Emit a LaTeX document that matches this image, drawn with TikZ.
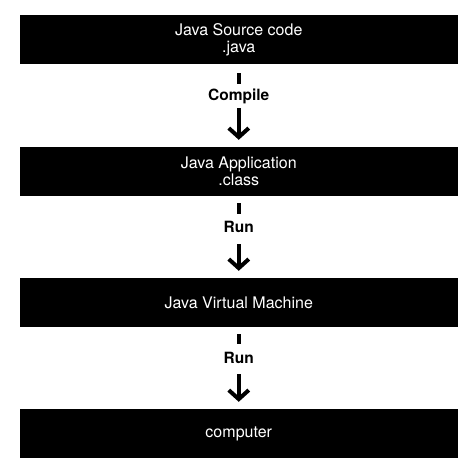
\documentclass[tikz,border=0pt]{standalone}
\usepackage{fontspec}
\setmainfont{TeX Gyre Heros}
\usetikzlibrary{arrows.meta}

\begin{document}
\begin{tikzpicture}[x=1pt, y=-1pt,
  stage/.style={fill=black, text=white, minimum width=438.5pt, minimum height=49pt, align=center, inner sep=0pt, font=\fontsize{16}{17}\selectfont},
  flow/.style={line width=4pt, -{Straight Barb[length=9pt, width=20pt]}, shorten <=7pt, shorten >=7pt},
  action/.style={fill=white, inner sep=5pt, text height=11pt, text depth=3pt, font=\bfseries\fontsize{15.5}{17}\selectfont}]
  \useasboundingbox (0,0) rectangle (473,473);
  % the four stages
  \node[stage] (src) at (238.75,39.5) {Java Source code\\.java};
  \node[stage] (app) at (238.75,171.5) {Java Application\\.class};
  \node[stage] (jvm) at (238.75,302.5) {Java Virtual Machine};
  \node[stage] (pc) at (238.75,433.5) {computer};
  % steps between them
  \draw[flow, shorten <=9pt] (src) -- node[action, pos=0.39] (compile) {Compile} (app);
  \draw[flow] (app) -- node[action, inner ysep=8pt, pos=0.40] (run1) {Run} (jvm);
  \draw[flow] (jvm) -- node[action, inner ysep=8pt, pos=0.39] (run2) {Run} (pc);
\end{tikzpicture}
\end{document}
